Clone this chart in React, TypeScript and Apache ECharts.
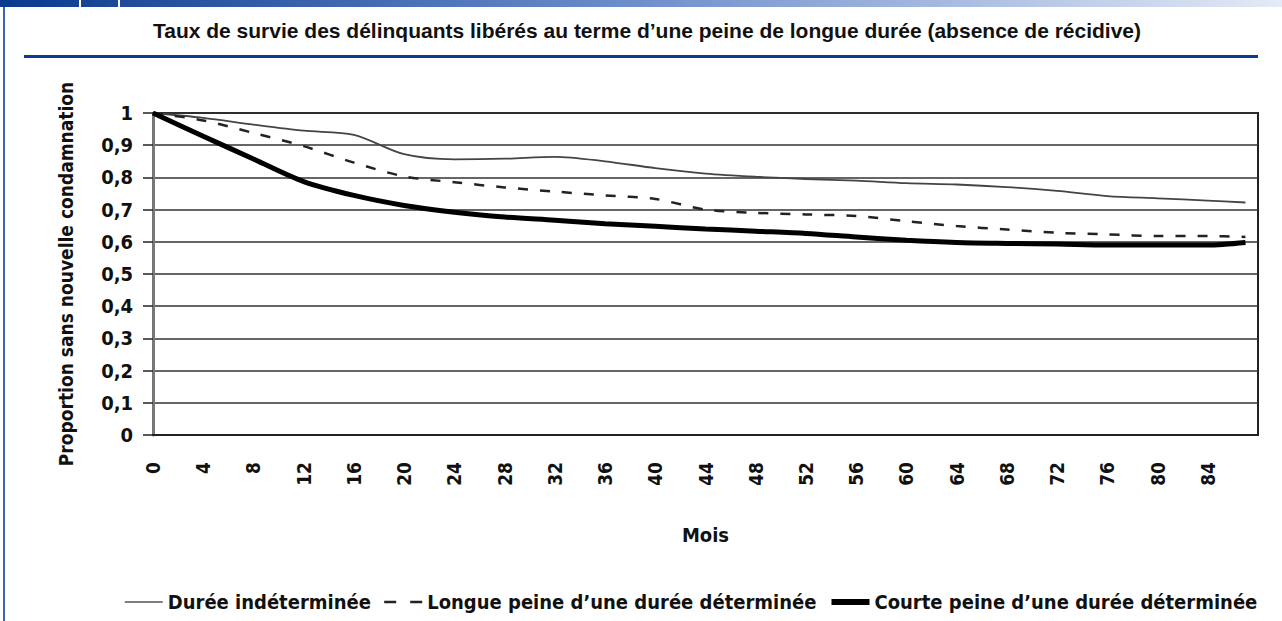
import React, { useEffect, useRef } from "react";
import * as echarts from "echarts";

const months = [0, 4, 8, 12, 16, 20, 24, 28, 32, 36, 40, 44, 48, 52, 56, 60, 64, 68, 72, 76, 80, 84, 87];
const dureeIndeterminee = [1.0, 0.985, 0.964, 0.945, 0.932, 0.872, 0.856, 0.858, 0.864, 0.85, 0.829, 0.812, 0.802, 0.795, 0.79, 0.782, 0.778, 0.77, 0.758, 0.742, 0.735, 0.728, 0.722];
const longuePeine = [1.0, 0.977, 0.938, 0.897, 0.846, 0.803, 0.785, 0.769, 0.756, 0.744, 0.733, 0.7, 0.69, 0.685, 0.68, 0.664, 0.649, 0.638, 0.628, 0.623, 0.618, 0.618, 0.615];
const courtePeine = [1.0, 0.928, 0.857, 0.787, 0.744, 0.713, 0.692, 0.677, 0.667, 0.656, 0.648, 0.64, 0.633, 0.626, 0.615, 0.605, 0.598, 0.595, 0.593, 0.59, 0.59, 0.59, 0.598];

const seriesNames = [
  "Durée indéterminée",
  "Longue peine d’une durée déterminée",
  "Courte peine d’une durée déterminée",
];
const titleText = "Taux de survie des délinquants libérés au terme d’une peine de longue durée (absence de récidive)";
const yAxisName = "Proportion sans nouvelle condamnation";
const xAxisName = "Mois";

const COND = "'Liberation Sans Narrow', 'DejaVu Sans Condensed', 'Arial Narrow', sans-serif";

function pairs(xs: number[], ys: number[]) {
  return xs.map((x, i) => [x, ys[i]]);
}

const hiddenDot = { color: "transparent", borderColor: "transparent", borderWidth: 0 };

export default function App() {
  const ref = useRef<HTMLDivElement>(null);
  useEffect(() => {
    if (!ref.current) return;
    const chart = echarts.init(ref.current, undefined, { renderer: "svg" });
    chart.setOption({
      animation: false,
      backgroundColor: "#ffffff",
      title: {
        text: titleText,
        left: 642,
        textAlign: "center",
        top: 15,
        textStyle: { fontFamily: "'Liberation Sans', Arial, sans-serif", fontWeight: "bold", fontSize: 21, color: "#111" },
      },
      graphic: [
        {
          type: "rect",
          shape: { x: 0, y: 0, width: 1282, height: 7 },
          style: {
            fill: new echarts.graphic.LinearGradient(0, 0, 1, 0, [
              { offset: 0, color: "#0a3a8e" },
              { offset: 0.5, color: "#6f8fcc" },
              { offset: 1, color: "#e4eaf6" },
            ]),
          },
        },
        { type: "rect", shape: { x: 79, y: 0, width: 2, height: 7 }, style: { fill: "#ffffff" } },
        { type: "rect", shape: { x: 118, y: 0, width: 2, height: 7 }, style: { fill: "#ffffff" } },
        { type: "rect", shape: { x: 3, y: 7, width: 2, height: 614 }, style: { fill: "#3a62b6" } },
        { type: "rect", shape: { x: 24, y: 55, width: 1234, height: 3 }, style: { fill: "#0a3c96" } },
      ],
      legend: {
        left: 124,
        top: 592,
        width: 1156,
        padding: 0,
        itemWidth: 38,
        itemHeight: 12,
        itemGap: 12,
        textStyle: { fontFamily: COND, fontWeight: "bold", fontSize: 20, color: "#111" },
        data: [
          { name: seriesNames[0], itemStyle: hiddenDot, lineStyle: { width: 1.5, color: "#555" } },
          { name: seriesNames[1], itemStyle: hiddenDot, lineStyle: { width: 2.5, color: "#222", type: [12, 14] } },
          { name: seriesNames[2], itemStyle: hiddenDot, lineStyle: { width: 6, color: "#000" } },
        ],
      },
      grid: {
        left: 153,
        right: 24,
        top: 113,
        bottom: 186,
        show: true,
        borderColor: "#222",
        borderWidth: 2,
      },
      xAxis: {
        type: "value",
        min: 0,
        max: 88,
        interval: 4,
        name: xAxisName,
        nameLocation: "middle",
        nameGap: 90,
        nameTextStyle: { fontFamily: COND, fontWeight: "bold", fontSize: 20, color: "#111" },
        axisLine: { show: true, lineStyle: { color: "#222", width: 2 } },
        axisTick: { show: false },
        splitLine: { show: false },
        axisLabel: {
          rotate: 90,
          margin: 27,
          fontFamily: COND,
          fontWeight: "bold",
          fontSize: 19,
          color: "#111",
          formatter: (v: number) => (v > 84 ? "" : String(v)),
        },
      },
      yAxis: {
        type: "value",
        min: 0,
        max: 1,
        interval: 0.1,
        name: yAxisName,
        nameLocation: "middle",
        nameGap: 78,
        nameTextStyle: { fontFamily: COND, fontWeight: "bold", fontSize: 19, color: "#111" },
        axisLine: { show: true, lineStyle: { color: "#777", width: 3 } },
        axisTick: { show: true, length: 10, lineStyle: { color: "#222", width: 1.5 } },
        splitLine: { show: true, lineStyle: { color: "#333", width: 1.5 } },
        axisLabel: {
          margin: 20,
          fontFamily: COND,
          fontWeight: "bold",
          fontSize: 20,
          color: "#111",
          formatter: (v: number) => {
            const r = Math.round(v * 10) / 10;
            if (r === 0) return "0";
            if (r === 1) return "1";
            return r.toFixed(1).replace(".", ",");
          },
        },
      },
      series: [
        {
          name: seriesNames[0],
          type: "line",
          data: pairs(months, dureeIndeterminee),
          showSymbol: false,
          symbol: "none",
          smooth: 0.3,
          itemStyle: { color: "#444" },
          lineStyle: { color: "#444", width: 1.8 },
          z: 3,
        },
        {
          name: seriesNames[1],
          type: "line",
          data: pairs(months, longuePeine),
          showSymbol: false,
          symbol: "none",
          smooth: 0.3,
          itemStyle: { color: "#222" },
          lineStyle: { color: "#222", width: 2.5, type: [10, 12] },
          z: 4,
        },
        {
          name: seriesNames[2],
          type: "line",
          data: pairs(months, courtePeine),
          showSymbol: false,
          symbol: "none",
          smooth: 0.3,
          itemStyle: { color: "#000" },
          lineStyle: { color: "#000", width: 5 },
          z: 5,
        },
      ],
    });
    return () => chart.dispose();
  }, []);
  return <div ref={ref} style={{ position: "fixed", left: 0, top: 0, width: 1282, height: 621 }} />;
}
